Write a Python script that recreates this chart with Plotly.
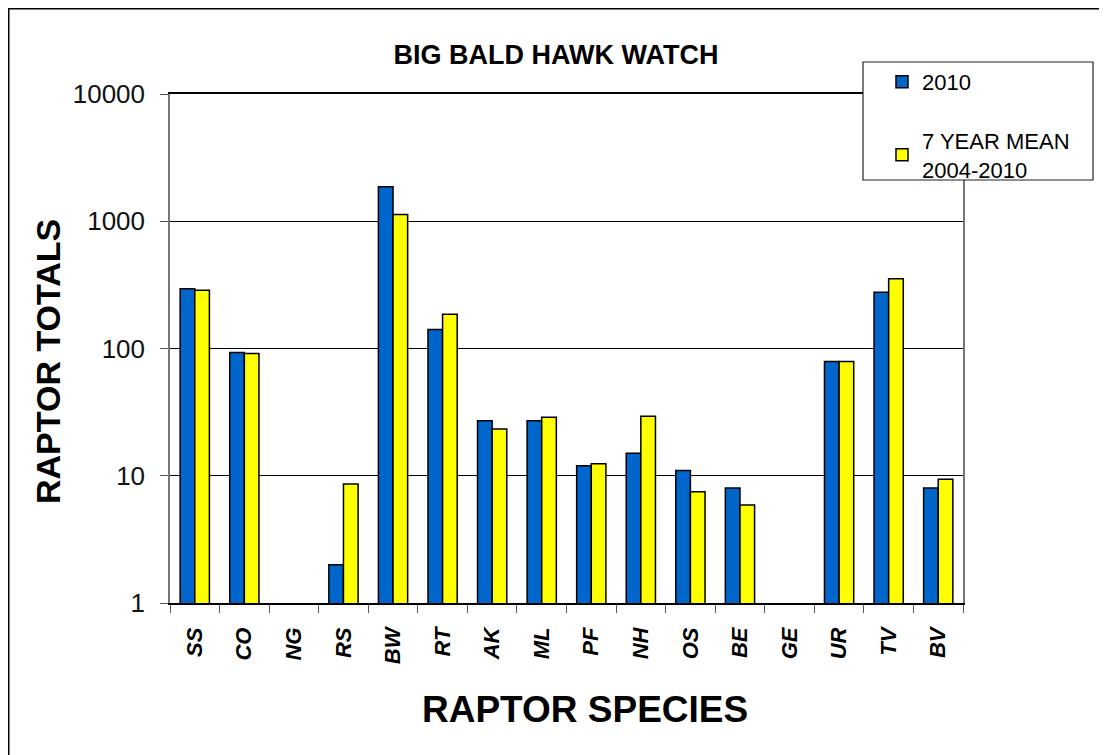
import plotly.graph_objects as go

species = ["SS", "CO", "NG", "RS", "BW", "RT", "AK", "ML", "PF", "NH", "OS", "BE", "GE", "UR", "TV", "BV"]
totals_2010 = [295, 93, 0, 2, 1863, 141, 27, 27, 12, 15, 11, 8, 0, 79, 277, 8]
mean_2004_2010 = [287, 91.5, 0.9, 8.6, 1130, 186, 23.3, 28.8, 12.4, 29.3, 7.5, 5.9, 0.9, 79, 353, 9.4]
y_ticks = [1, 10, 100, 1000, 10000]
y_tick_text = ["1", "10", "100", "1000", "10000"]

FONT = "Liberation Sans, Arial, sans-serif"

fig = go.Figure()
fig.add_trace(go.Bar(
    x=species, y=totals_2010, name="2010",
    marker=dict(color="#0066CC", line=dict(color="black", width=1.5)),
    legendgroup="a",
))
fig.add_trace(go.Bar(
    x=species, y=mean_2004_2010, name="7 YEAR MEAN<br>2004-2010",
    marker=dict(color="#FFFF00", line=dict(color="black", width=1.5)),
    legendgroup="b",
))

# page is offset by the browser's 8px body margin; work in page coords
OFF = 8
W, H = 1107, 755
L, T = 170 - OFF, 94 - OFF
R = W - (963 - OFF)
B = H - (603 - OFF)
pw, ph = W - L - R, H - T - B

def px(x):  # page x -> paper
    return (x - OFF - L) / pw

def py(y):  # page y -> paper
    return (H - B - (y - OFF)) / ph

fig.update_layout(
    width=W, height=H,
    margin=dict(l=L, r=R, t=T, b=B),
    paper_bgcolor="white", plot_bgcolor="white",
    barmode="group", bargap=0.41, bargroupgap=0,
    font=dict(family=FONT, color="black"),
    title=dict(text="<b>BIG BALD HAWK WATCH</b>", x=px(556), xref="paper", xanchor="center",
               y=1 - (55 - OFF) / H, yanchor="middle", font=dict(size=27, family=FONT)),
    legend=dict(x=px(882), y=py(61), xanchor="left", yanchor="top",
                font=dict(size=22, family=FONT), bgcolor="rgba(0,0,0,0)",
                traceorder="grouped", tracegroupgap=27, borderwidth=0),
    xaxis=dict(
        type="category", tickson="boundaries", ticks="outside", ticklen=8,
        tickcolor="#555", showline=True, linecolor="black", linewidth=1.5, mirror=True,
        tickangle=-90, ticklabelstandoff=14,
        tickfont=dict(size=22, family=FONT, weight="bold", style="italic"),
        showgrid=False,
    ),
    yaxis=dict(
        type="log", range=[0, 4], tickvals=y_ticks, ticktext=y_tick_text,
        ticks="outside", ticklen=8, tickcolor="#555", ticklabelstandoff=10,
        showline=True, linecolor="#777", linewidth=1.5, mirror=True,
        showgrid=True, gridcolor="black", gridwidth=1,
        tickfont=dict(size=26, family=FONT, color="#111"),
        zeroline=False,
    ),
    annotations=[
        dict(text="<b>RAPTOR SPECIES</b>", xref="paper", yref="paper",
             x=px(585), y=py(710), xanchor="center", yanchor="middle",
             showarrow=False, font=dict(size=37, family=FONT)),
        dict(text="<b>RAPTOR TOTALS</b>", xref="paper", yref="paper",
             x=px(48), y=py(362), xanchor="center", yanchor="middle", textangle=-90,
             showarrow=False, font=dict(size=34, family=FONT)),
    ],
    shapes=[
        dict(type="rect", xref="paper", yref="paper",
             x0=px(OFF + 0.75), x1=px(1140), y0=py(800), y1=py(OFF + 0.75),
             line=dict(color="black", width=1.5), fillcolor="rgba(0,0,0,0)", layer="below"),
        dict(type="rect", xref="paper", yref="paper",
             x0=px(863), x1=px(1093), y0=py(180), y1=py(62),
             line=dict(color="#222", width=1.2), fillcolor="white", layer="above"),
    ],
)

fig.write_html("out.html")
